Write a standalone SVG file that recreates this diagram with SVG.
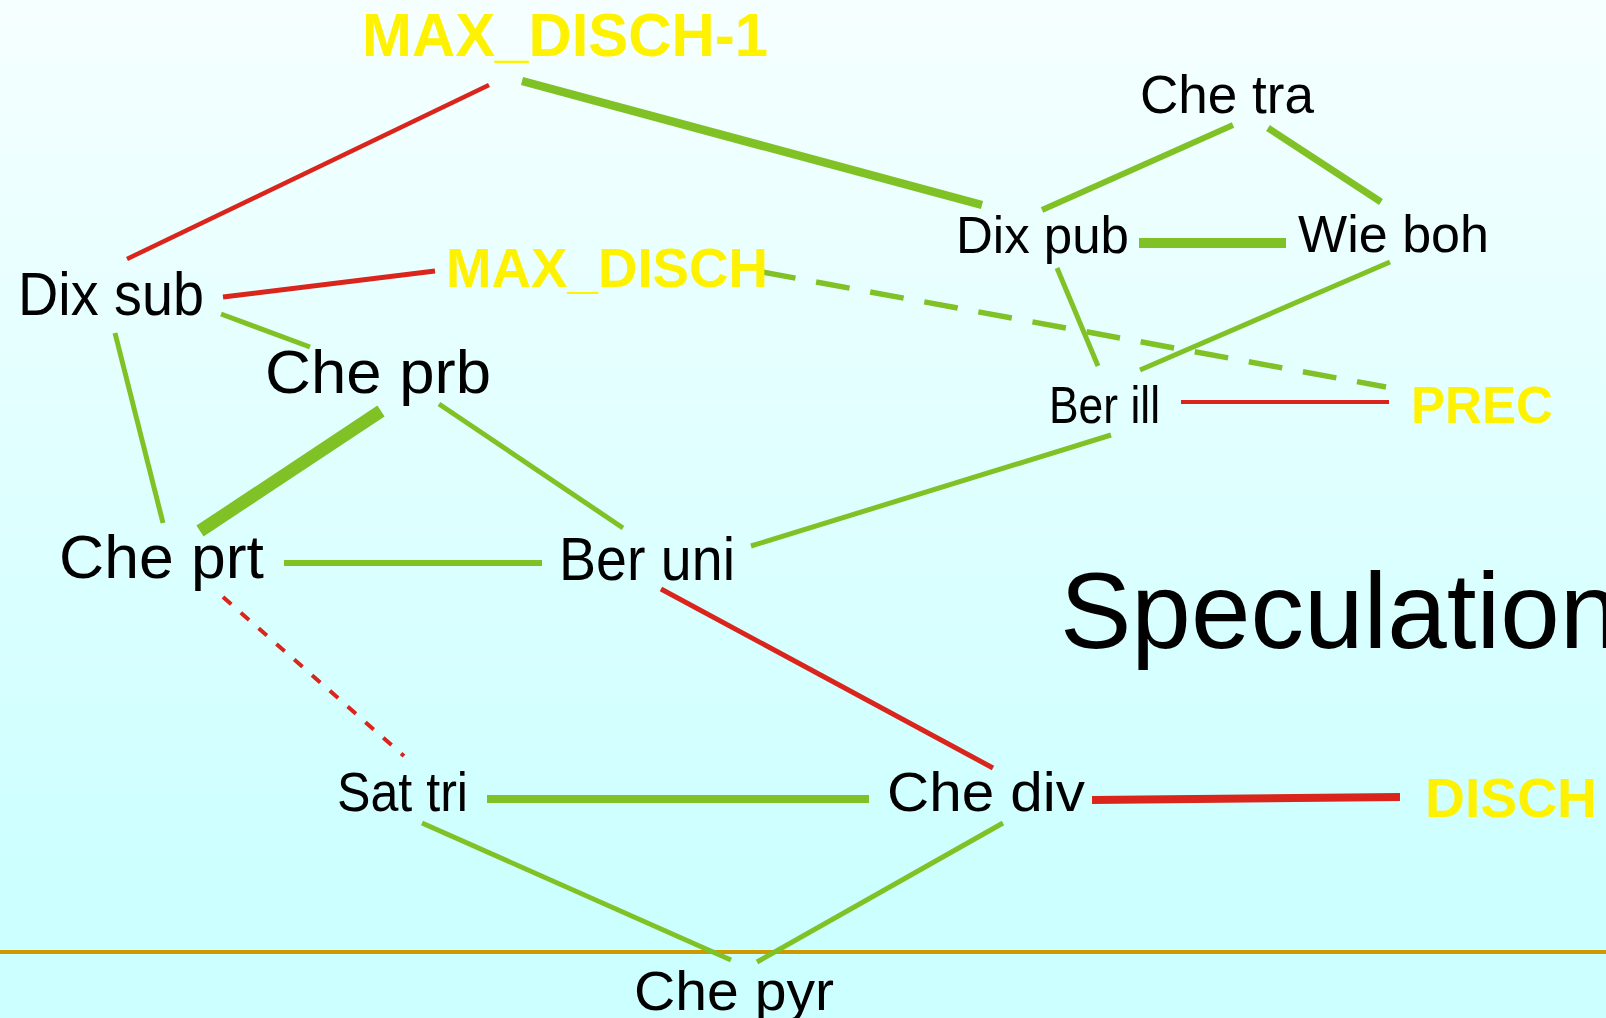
<svg xmlns="http://www.w3.org/2000/svg" width="1606" height="1018" viewBox="0 0 1606 1018">
<defs>
<linearGradient id="bg" x1="0" y1="0" x2="0" y2="1">
<stop offset="0" stop-color="#f6ffff"/>
<stop offset="0.88" stop-color="#ccffff"/>
<stop offset="1" stop-color="#ccffff"/>
</linearGradient>
<style>
.n{font-family:"Liberation Sans",Arial,sans-serif;fill:#000}
.v{font-family:"Liberation Sans",Arial,sans-serif;font-weight:bold;fill:#fff200}
.g{stroke:#80c225;fill:none}
.r{stroke:#d9251c;fill:none}
</style>
</defs>
<rect x="0" y="0" width="1606" height="1018" fill="url(#bg)"/>
<line x1="0" y1="952" x2="1606" y2="952" stroke="#cc9900" stroke-width="4"/>
<g id="connectors">
<line class="r" x1="489" y1="85" x2="127" y2="259" stroke-width="4.5"/>
<line class="g" x1="522" y1="81" x2="982" y2="205" stroke-width="8.5"/>
<line class="r" x1="223" y1="297" x2="435" y2="271" stroke-width="5"/>
<line class="g" x1="762" y1="272" x2="1386" y2="387" stroke-width="5.5" stroke-dasharray="34 21"/>
<line class="g" x1="221" y1="314" x2="310" y2="347" stroke-width="5"/>
<line class="g" x1="115" y1="333" x2="163" y2="523" stroke-width="5"/>
<line class="g" x1="381" y1="411" x2="200" y2="531" stroke-width="13"/>
<line class="g" x1="439" y1="404" x2="623" y2="528" stroke-width="5"/>
<line class="g" x1="1233" y1="125" x2="1042" y2="210" stroke-width="6"/>
<line class="g" x1="1268" y1="128" x2="1381" y2="202" stroke-width="7"/>
<line class="g" x1="1139" y1="243" x2="1286" y2="243" stroke-width="10"/>
<line class="g" x1="1057" y1="268" x2="1098" y2="366" stroke-width="5"/>
<line class="g" x1="1390" y1="262" x2="1140" y2="370" stroke-width="5"/>
<line class="r" x1="1181" y1="402" x2="1389" y2="402" stroke-width="4"/>
<line class="g" x1="1111" y1="435" x2="751" y2="546" stroke-width="5"/>
<line class="g" x1="284" y1="563" x2="542" y2="563" stroke-width="6"/>
<line class="r" x1="223" y1="597" x2="404" y2="756" stroke-width="4" stroke-dasharray="11 12.7"/>
<line class="r" x1="661" y1="589" x2="993" y2="768" stroke-width="5"/>
<line class="g" x1="487" y1="799" x2="869" y2="799" stroke-width="8"/>
<line class="r" x1="1092" y1="800" x2="1400" y2="797" stroke-width="8"/>
<line class="g" x1="422" y1="823" x2="731" y2="960" stroke-width="5"/>
<line class="g" x1="1003" y1="823" x2="757" y2="962" stroke-width="5"/>
</g>
<g id="node-max-disch-1"><text class="v" x="362" y="56" font-size="61" textLength="406" lengthAdjust="spacingAndGlyphs">MAX_DISCH-1</text></g>
<g id="node-max-disch"><text class="v" x="446" y="287" font-size="55" textLength="322" lengthAdjust="spacingAndGlyphs">MAX_DISCH</text></g>
<g id="node-prec"><text class="v" x="1411" y="423" font-size="51" textLength="142" lengthAdjust="spacingAndGlyphs">PREC</text></g>
<g id="node-disch"><text class="v" x="1425" y="817" font-size="56" textLength="172" lengthAdjust="spacingAndGlyphs">DISCH</text></g>
<g id="node-che-tra"><text class="n" x="1140" y="113" font-size="53" textLength="174" lengthAdjust="spacingAndGlyphs">Che tra</text></g>
<g id="node-dix-pub"><text class="n" x="956" y="253" font-size="52" textLength="173" lengthAdjust="spacingAndGlyphs">Dix pub</text></g>
<g id="node-wie-boh"><text class="n" x="1298" y="252" font-size="52" textLength="191" lengthAdjust="spacingAndGlyphs">Wie boh</text></g>
<g id="node-ber-ill"><text class="n" x="1049" y="423" font-size="52" textLength="111" lengthAdjust="spacingAndGlyphs">Ber ill</text></g>
<g id="node-dix-sub"><text class="n" x="18" y="315" font-size="61" textLength="186" lengthAdjust="spacingAndGlyphs">Dix sub</text></g>
<g id="node-che-prb"><text class="n" x="265" y="393" font-size="61" textLength="226" lengthAdjust="spacingAndGlyphs">Che prb</text></g>
<g id="node-che-prt"><text class="n" x="59" y="578" font-size="61" textLength="205" lengthAdjust="spacingAndGlyphs">Che prt</text></g>
<g id="node-ber-uni"><text class="n" x="559" y="580" font-size="61" textLength="176" lengthAdjust="spacingAndGlyphs">Ber uni</text></g>
<g id="node-sat-tri"><text class="n" x="337" y="811" font-size="56" textLength="131" lengthAdjust="spacingAndGlyphs">Sat tri</text></g>
<g id="node-che-div"><text class="n" x="887" y="811" font-size="56" textLength="198" lengthAdjust="spacingAndGlyphs">Che div</text></g>
<g id="node-che-pyr"><text class="n" x="634" y="1010" font-size="56" textLength="200" lengthAdjust="spacingAndGlyphs">Che pyr</text></g>
<g id="title"><text class="n" x="1060" y="648" font-size="107">Speculation</text></g>
</svg>
